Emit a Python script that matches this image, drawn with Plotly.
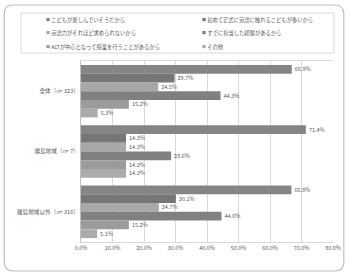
import plotly.graph_objects as go

categories = ["全体（<i>n</i>= 323）", "離島地域（<i>n</i>= 7）", "離島地域以外（<i>n</i>= 316）"]
series_names = [
    "こどもが楽しんでいそうだから",
    "初めて正式に英語に触れるこどもが多いから",
    "英語力がそれほど求められないから",
    "すでに担当した経験があるから",
    "ALTが中心となって授業を行うことがあるから",
    "その他",
]
s1 = [66.9, 71.4, 66.8]
s2 = [29.7, 14.3, 30.1]
s3 = [24.5, 14.3, 24.7]
s4 = [44.3, 28.6, 44.6]
s5 = [15.2, 14.3, 15.2]
s6 = [5.3, 14.3, 5.1]
series_values = [s1, s2, s3, s4, s5, s6]
colors = ["#858585", "#767676", "#a8a8a8", "#808080", "#9b9b9b", "#ababab"]
x_ticks = [0, 10, 20, 30, 40, 50, 60, 70, 80]
x_tick_labels = ["0.0%", "10.0%", "20.0%", "30.0%", "40.0%", "50.0%", "60.0%", "70.0%", "80.0%"]

FONT = "Noto Sans CJK JP"
W, H = 353, 280
L, R, T, B = 81, 337, 61, 242


def px(x):
    return (x - L) / (R - L)


def py(y):
    return (B - y) / (B - T)


fig = go.Figure()
for name, vals, col in zip(series_names, series_values, colors):
    fig.add_trace(go.Bar(
        y=categories, x=vals, name=name, orientation="h",
        marker=dict(color=col, line=dict(width=0)),
        text=vals, texttemplate="%{x:.1f}%", textposition="outside",
        textfont=dict(size=5.5, color="#595959", family=FONT),
        constraintext="none", cliponaxis=False, showlegend=False,
    ))

shapes = []
# outer rounded frame
x0, x1, y0, y1, r = 3, 348, 5, 271, 9
rx, ry = r / (R - L), r / (B - T)
X0, X1, Y0, Y1 = px(x0), px(x1), py(y1), py(y0)
path = (f"M {X0+rx},{Y1} L {X1-rx},{Y1} Q {X1},{Y1} {X1},{Y1-ry} "
        f"L {X1},{Y0+ry} Q {X1},{Y0} {X1-rx},{Y0} L {X0+rx},{Y0} "
        f"Q {X0},{Y0} {X0},{Y0+ry} L {X0},{Y1-ry} Q {X0},{Y1} {X0+rx},{Y1} Z")
shapes.append(dict(type="path", path=path, xref="paper", yref="paper",
                   line=dict(color="#bfbfbf", width=1.2), layer="below"))
# legend box
shapes.append(dict(type="rect", xref="paper", yref="paper",
                   x0=px(20), x1=px(338), y0=py(53), y1=py(13),
                   line=dict(color="#d9d9d9", width=1), layer="below"))

annotations = []
leg_x = [43, 202]
leg_y = [19.5, 33, 46.5]
for i, (name, col) in enumerate(zip(series_names, colors)):
    cx = leg_x[i % 2]
    cy = leg_y[i // 2]
    annotations.append(dict(
        xref="paper", yref="paper", x=px(cx), y=py(cy),
        xanchor="left", yanchor="middle", showarrow=False,
        text=f"<span style='color:{col};font-size:4px'>■</span> {name}",
        font=dict(size=5.3, color="#595959", family=FONT),
    ))

fig.update_layout(
    width=W, height=H,
    margin=dict(l=L, r=W - R, t=T, b=H - B),
    paper_bgcolor="white", plot_bgcolor="white",
    barmode="group", bargap=0.13, bargroupgap=0,
    font=dict(family=FONT, size=5.5, color="#595959"),
    xaxis=dict(range=[0, 80], tickvals=x_ticks, ticktext=x_tick_labels,
               showgrid=True, gridcolor="#d9d9d9", gridwidth=1,
               showline=True, linecolor="#d9d9d9", mirror=True,
               zeroline=False, ticks="", tickfont=dict(size=5.5, color="#595959")),
    yaxis=dict(autorange="reversed", showgrid=False, showline=True,
               linecolor="#bfbfbf", mirror=False, ticks="",
               tickfont=dict(size=5.6, color="#595959")),
    shapes=shapes, annotations=annotations,
    showlegend=False,
)

fig.write_html("out.html")
